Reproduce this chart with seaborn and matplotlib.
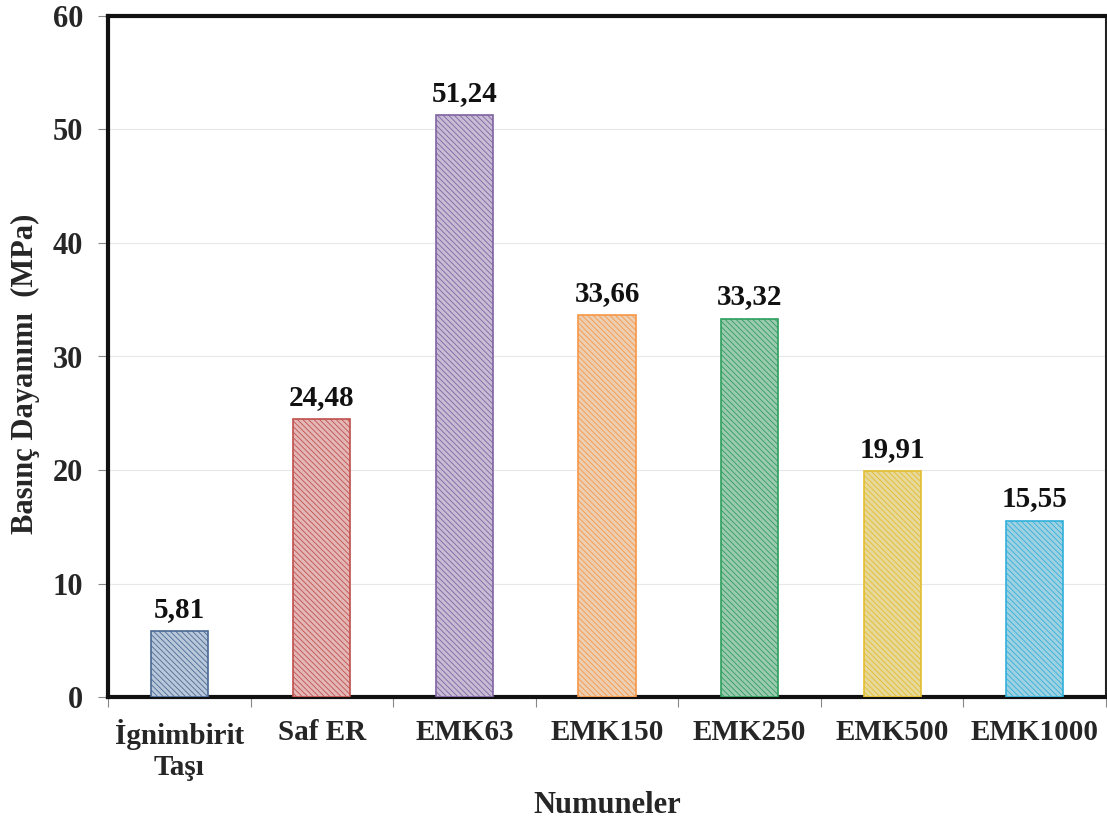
import matplotlib
matplotlib.use("Agg")
import matplotlib.pyplot as plt
import seaborn as sns
import pandas as pd

samples = ["İgnimbirit\nTaşı", "Saf ER", "EMK63", "EMK150", "EMK250", "EMK500", "EMK1000"]
strength = [5.81, 24.48, 51.24, 33.66, 33.32, 19.91, 15.55]
value_labels = ["5,81", "24,48", "51,24", "33,66", "33,32", "19,91", "15,55"]

face_colors = ["#b3c6de", "#eab0ae", "#c6b8d8", "#f6cfa8", "#93d2ad", "#f4e08e", "#94d6ec"]
edge_colors = ["#4a6a94", "#c0504d", "#8064a2", "#f79646", "#2e9e5e", "#e3bd2e", "#31b0dc"]

sns.set_theme(style="white")
plt.rcParams["font.family"] = ["Liberation Serif", "DejaVu Serif"]
plt.rcParams["font.weight"] = "bold"
plt.rcParams["hatch.linewidth"] = 0.6

df = pd.DataFrame({"Numune": samples, "Dayanim": strength})

fig = plt.figure(figsize=(11.07, 8.22), dpi=100)
ax = fig.add_axes([108 / 1107, 1 - 697 / 822, (1106 - 108) / 1107, (697 - 16) / 822])

sns.barplot(data=df, x="Numune", y="Dayanim", hue="Numune", palette=face_colors,
            width=0.4, legend=False, ax=ax, zorder=3)

for bar, ec in zip(ax.patches, edge_colors):
    bar.set_edgecolor(ec)
    bar.set_linewidth(1.2)
    bar.set_hatch("\\\\\\\\\\\\")

for i, (v, lab) in enumerate(zip(strength, value_labels)):
    ax.annotate(lab, (i, v), xytext=(0, 6), textcoords="offset points",
                ha="center", va="bottom", fontsize=21, fontweight="bold", color="#111111")

ax.set_ylim(0, 60)
ax.set_xlim(-0.5, len(samples) - 0.5)
ax.set_yticks(range(0, 61, 10))
ax.yaxis.grid(True, color="#e8e8e8", linewidth=0.8, zorder=0)
ax.set_axisbelow(True)

# category ticks sit on the boundaries between bars
ax.set_xticks([i - 0.5 for i in range(len(samples) + 1)], minor=False)
ax.set_xticklabels([])
ax.set_xticks(range(len(samples)), minor=True)
ax.set_xticklabels(samples, minor=True, fontsize=21, fontweight="bold", linespacing=1.2)
ax.tick_params(axis="x", which="major", length=7, width=0.8, color="#888888", direction="out", bottom=True)
ax.tick_params(axis="x", which="minor", length=0, pad=16)
ax.tick_params(axis="y", length=7, width=0.8, color="#888888", direction="out", left=True,
               labelsize=22, pad=11)
for t in ax.get_yticklabels():
    t.set_fontweight("bold")

ax.set_xlabel("Numuneler", fontsize=22, fontweight="bold", va="center")
ax.xaxis.set_label_coords(0.5, -(805 - 697) / 681)
ax.set_ylabel("Basınç Dayanımı  (MPa)", fontsize=22, fontweight="bold", va="center")
ax.yaxis.set_label_coords(-(108 - 25) / 998, (697 - 374) / 681)

for side in ["left", "bottom", "top"]:
    ax.spines[side].set_linewidth(3)
    ax.spines[side].set_color("#111111")
ax.spines["right"].set_linewidth(1.5)
ax.spines["right"].set_color("#222222")

fig.savefig("out.png", dpi=100)
